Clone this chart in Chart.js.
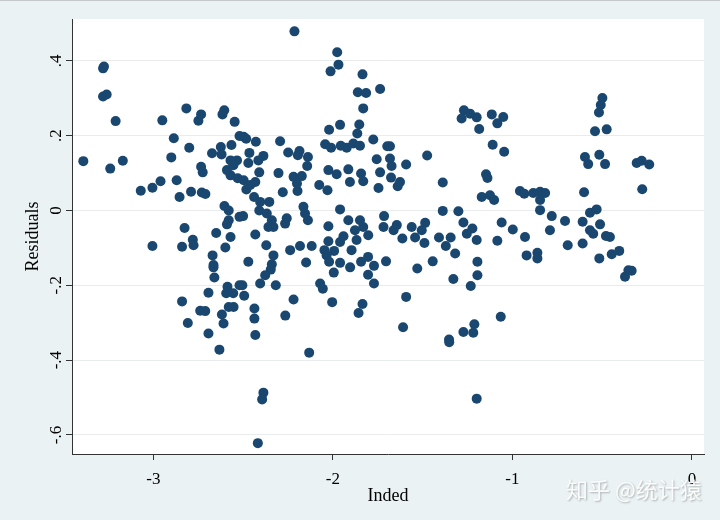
<!DOCTYPE html>
<html><head><meta charset="utf-8">
<script src="https://cdn.jsdelivr.net/npm/chart.js@4.4.1/dist/chart.umd.min.js"></script>
<style>html,body{margin:0;padding:0;background:#eaf2f3;}#wrap{width:720px;height:520px;position:relative}</style>
</head><body><div id="wrap"><canvas id="c" width="720" height="520"></canvas></div>
<script>
// Inded (x) values
const indedValues = [
-3.39,-3.28,-3.275,-3.28,-3.26,-3.21,-3.24,-3.17,-3.07,-3.005,
-2.96,-3.005,-2.95,-2.886,-2.9,-2.87,-2.854,-2.79,-2.80,-2.816,
-2.749,-2.734,-2.734,-2.725,-2.73,-2.71,-2.826,-2.84,-2.78,-2.776,
-2.673,-2.624,-2.605,-2.615,-2.565,-2.62,-2.59,-2.57,-2.534,-2.547,
-2.52,-2.57,-2.604,-2.58,-2.58,-2.59,-2.65,-2.57,-2.599,-2.67,
-2.52,-2.665,-2.665,-2.66,-2.587,-2.693,-2.84,-2.739,-2.711,-2.808,
-2.618,-2.609,-2.58,-2.553,-2.594,-2.555,-2.52,-2.693,-2.632,-2.483,
-2.554,-2.53,-2.439,-2.405,
-2.214,-1.976,-1.969,-2.013,-1.835,-1.861,-1.815,-1.737,-1.831,-2.021,
-1.96,-1.853,-1.864,-1.775,-2.043,-2.01,-1.956,-1.923,-1.886,-1.849,
-1.682,-1.697,-2.497,-2.429,-2.294,-2.249,-2.186,-2.195,-2.139,-2.143,
-2.465,-2.387,-2.415,-2.471,-2.41,-2.497,-2.432,-2.482,-2.46,-2.303,
-2.279,-2.219,-2.173,-2.197,-2.2,-2.076,-2.03,-2.025,-1.979,-1.914,
-1.905,-1.843,-1.831,-1.737,-1.746,-1.756,-1.682,-1.673,-1.676,-1.626,
-1.639,-1.592,-1.475,-1.388,-1.27,-1.283,-1.236,-1.199,-1.185,-1.96,
-2.025,-1.914,-1.849,-1.877,-1.831,-1.803,-1.715,-1.718,-1.644,-1.662,
-1.561,-1.505,-1.486,-1.542,-1.49,-1.613,-1.388,-1.301,-1.273,-1.223,
-1.254,-1.409,-1.344,-1.371,-1.319,-1.199,-2.5,-2.41,-2.354,-2.368,
-2.34,-2.359,-2.331,-2.432,-2.371,-2.331,-2.257,-2.266,-2.164,-2.155,
-2.139,-2.238,-2.183,-2.118,-2.025,-2.047,-1.993,-1.96,-1.941,-1.896,
-1.868,-2.035,-1.804,
-2.471,-2.34,-2.346,-2.377,-2.405,-2.318,-2.504,-2.494,-2.437,-2.437,
-2.432,-2.265,-2.219,-2.149,-2.132,-2.071,-2.056,-2.004,-2.021,-1.96,
-1.995,-1.904,-1.843,-1.771,-1.804,-1.771,-1.835,-1.857,-1.704,-1.592,
-1.609,-1.53,-1.444,-1.329,-1.232,-1.195,-1.195,-1.353,-1.352,-1.273,
-1.218,-1.212,-2.387,-2.394,-2.418,-1.199,
-0.499,-0.508,-0.518,-0.54,-0.475,-0.596,-0.578,-0.516,-0.484,-0.308,
-0.28,-0.238,-0.277,-0.601,-1.115,-1.084,-1.051,-1.11,-1.046,-1.147,
-1.139,-1.171,-1.125,-1.102,-0.958,-0.934,-0.884,-0.846,-0.818,-0.846,
-0.846,-0.781,-0.707,-0.791,-0.568,-0.531,-0.609,-0.512,-0.568,-0.55,
-0.479,-0.457,-1.06,-0.998,-0.93,-1.084,-0.692,-0.609,-0.921,-0.861,
-0.861,-0.516,-0.447,-0.405,-0.373,-0.336,-0.354,-1.065
];
// Residuals (y) values, same order
const residualValues = [
0.132,0.38,0.385,0.305,0.31,0.239,0.112,0.133,0.053,0.061,
0.078,-0.095,0.241,0.193,0.142,0.081,0.036,0.05,0.168,0.273,
0.24,0.257,0.117,0.102,0.048,0.044,-0.047,-0.097,-0.078,-0.093,
0.153,0.17,0.268,0.257,0.175,0.15,0.108,0.094,0.134,0.237,
0.199,0.134,0.012,0.0,-0.026,-0.037,-0.06,-0.071,-0.099,-0.12,
-0.017,-0.146,-0.152,-0.179,-0.204,-0.22,-0.243,-0.268,-0.269,-0.301,
-0.278,-0.302,-0.258,-0.258,-0.221,-0.221,-0.2,-0.329,-0.372,0.192,
0.121,0.086,0.036,0.023,
0.479,0.423,0.39,0.372,0.364,0.316,0.314,0.325,0.273,0.216,
0.229,0.23,0.206,0.19,0.177,0.168,0.173,0.168,0.179,0.173,
0.172,0.172,0.197,0.184,0.185,0.155,0.159,0.148,0.143,0.119,
0.154,0.146,0.134,0.127,0.102,0.081,0.076,0.056,0.068,0.1,
0.049,0.09,0.092,0.052,0.072,0.068,0.054,0.108,0.097,0.11,
0.076,0.099,0.078,0.102,0.06,0.137,0.139,0.119,0.088,0.076,
0.065,0.123,0.147,0.075,0.268,0.246,0.259,0.249,0.218,0.003,
-0.042,-0.026,-0.026,-0.053,-0.044,-0.066,-0.015,-0.044,-0.039,-0.053,
-0.044,-0.053,-0.033,-0.072,-0.087,-0.075,-0.001,-0.002,-0.032,-0.048,
-0.062,-0.072,-0.072,-0.095,-0.115,-0.079,-0.015,0.0,0.023,-0.008,
-0.026,-0.044,-0.044,-0.064,-0.093,-0.12,-0.021,-0.035,0.01,-0.008,
-0.026,-0.106,-0.095,-0.095,-0.082,-0.106,-0.108,-0.084,-0.069,-0.106,
-0.079,-0.12,-0.124,
-0.137,-0.144,-0.158,-0.173,-0.195,-0.2,-0.2,-0.228,-0.262,-0.289,
-0.333,-0.281,-0.238,-0.139,-0.38,-0.195,-0.209,-0.245,-0.137,-0.14,
-0.166,-0.152,-0.137,-0.148,-0.172,-0.195,-0.25,-0.274,-0.136,-0.231,
-0.312,-0.155,-0.136,-0.183,-0.202,-0.173,-0.137,-0.345,-0.352,-0.325,
-0.327,-0.304,-0.487,-0.505,-0.622,-0.503,
0.301,0.282,0.262,0.212,0.217,0.143,0.124,0.149,0.124,0.127,
0.133,0.123,0.057,0.049,0.257,0.233,0.25,0.176,0.157,0.097,
0.087,0.036,0.041,0.028,0.052,0.045,0.047,0.05,0.047,0.028,
0.001,-0.015,-0.028,-0.053,-0.006,0.003,-0.03,-0.037,-0.053,-0.062,
-0.068,-0.071,-0.032,-0.051,-0.071,-0.081,-0.093,-0.088,-0.12,-0.113,
-0.128,-0.128,-0.117,-0.108,-0.177,-0.161,-0.16,-0.284
];
const xTickValues = [-3, -2, -1, 0];
const xTickLabels = ['-3', '-2', '-1', '0'];
const yTickValues = [-0.6, -0.4, -0.2, 0, 0.2, 0.4];
const yTickLabels = ['-.6', '-.4', '-.2', '0', '.2', '.4'];
const xTitle = 'Inded';
const yTitle = 'Residuals';
const watermark = '知乎 @统计猿';

const points = indedValues.map((x, i) => ({x: x, y: residualValues[i]}));
const SERIF = '"Liberation Serif", "Times New Roman", serif';

const bgPlugin = {
  id: 'bg',
  beforeDraw(chart) {
    const {ctx, chartArea: a, width, height} = chart;
    ctx.save();
    ctx.fillStyle = '#eaf2f3';
    ctx.fillRect(0, 0, width, height);
    ctx.fillStyle = '#ffffff';
    ctx.fillRect(a.left, a.top, a.right - a.left, a.bottom - a.top);
    ctx.fillStyle = '#c4c8ca';
    ctx.fillRect(0, 0, width, 1);
    ctx.restore();
  },
  afterDraw(chart) {
    const {ctx} = chart;
    const ys = chart.scales.y;
    ctx.save();
    ctx.font = '17px ' + SERIF;
    ctx.fillStyle = '#000';
    ctx.textAlign = 'center';
    ctx.textBaseline = 'middle';
    yTickValues.forEach((v, i) => {
      const py = ys.getPixelForValue(v);
      ctx.save();
      ctx.translate(57, py);
      ctx.rotate(-Math.PI / 2);
      ctx.fillText(yTickLabels[i], 0, 0);
      ctx.restore();
    });
    // watermark
    ctx.font = '22px "Noto Sans CJK SC"';
    ctx.textAlign = 'left';
    ctx.textBaseline = 'middle';
    ctx.shadowColor = 'rgba(0,0,0,0.3)';
    ctx.shadowBlur = 2;
    ctx.shadowOffsetX = 1;
    ctx.shadowOffsetY = 1;
    ctx.fillStyle = 'rgba(255,255,255,0.9)';
    ctx.fillText(watermark, 566, 490);
    ctx.restore();
  }
};

new Chart(document.getElementById('c'), {
  type: 'scatter',
  data: {
    datasets: [{
      data: points,
      backgroundColor: '#1a476f',
      borderWidth: 0,
      pointRadius: 5,
      pointHoverRadius: 5
    }]
  },
  options: {
    responsive: false,
    animation: false,
    devicePixelRatio: 1,
    layout: {padding: {left: 0, top: 19, right: 16, bottom: 0}},
    plugins: {legend: {display: false}, tooltip: {enabled: false}},
    scales: {
      x: {
        type: 'linear',
        min: -3.453,
        max: 0.067,
        afterBuildTicks: s => { s.ticks = xTickValues.map(v => ({value: v})); },
        afterFit: s => { s.height = 66; },
        grid: {drawOnChartArea: false, drawTicks: true, tickLength: 6, tickColor: '#333', tickWidth: 1},
        border: {display: true, color: '#333', width: 1},
        ticks: {
          font: {family: SERIF, size: 17}, color: '#000', padding: 9,
          maxRotation: 0, minRotation: 0,
          callback: (v, i) => xTickLabels[i]
        },
        title: {display: true, text: xTitle, font: {family: SERIF, size: 18}, color: '#000', padding: {top: 0, bottom: 13}}
      },
      y: {
        type: 'linear',
        min: -0.651,
        max: 0.512,
        afterBuildTicks: s => { s.ticks = yTickValues.map(v => ({value: v})); },
        afterFit: s => { s.width = 72; },
        grid: {color: '#e9ecec', lineWidth: 1, drawTicks: true, tickLength: 6, tickColor: '#333', tickWidth: 1},
        border: {display: true, color: '#333', width: 1},
        ticks: {display: false},
        title: {display: true, text: yTitle, font: {family: SERIF, size: 18}, color: '#000', padding: {top: 22, bottom: 0}}
      }
    }
  },
  plugins: [bgPlugin]
});
</script>
</body></html>
